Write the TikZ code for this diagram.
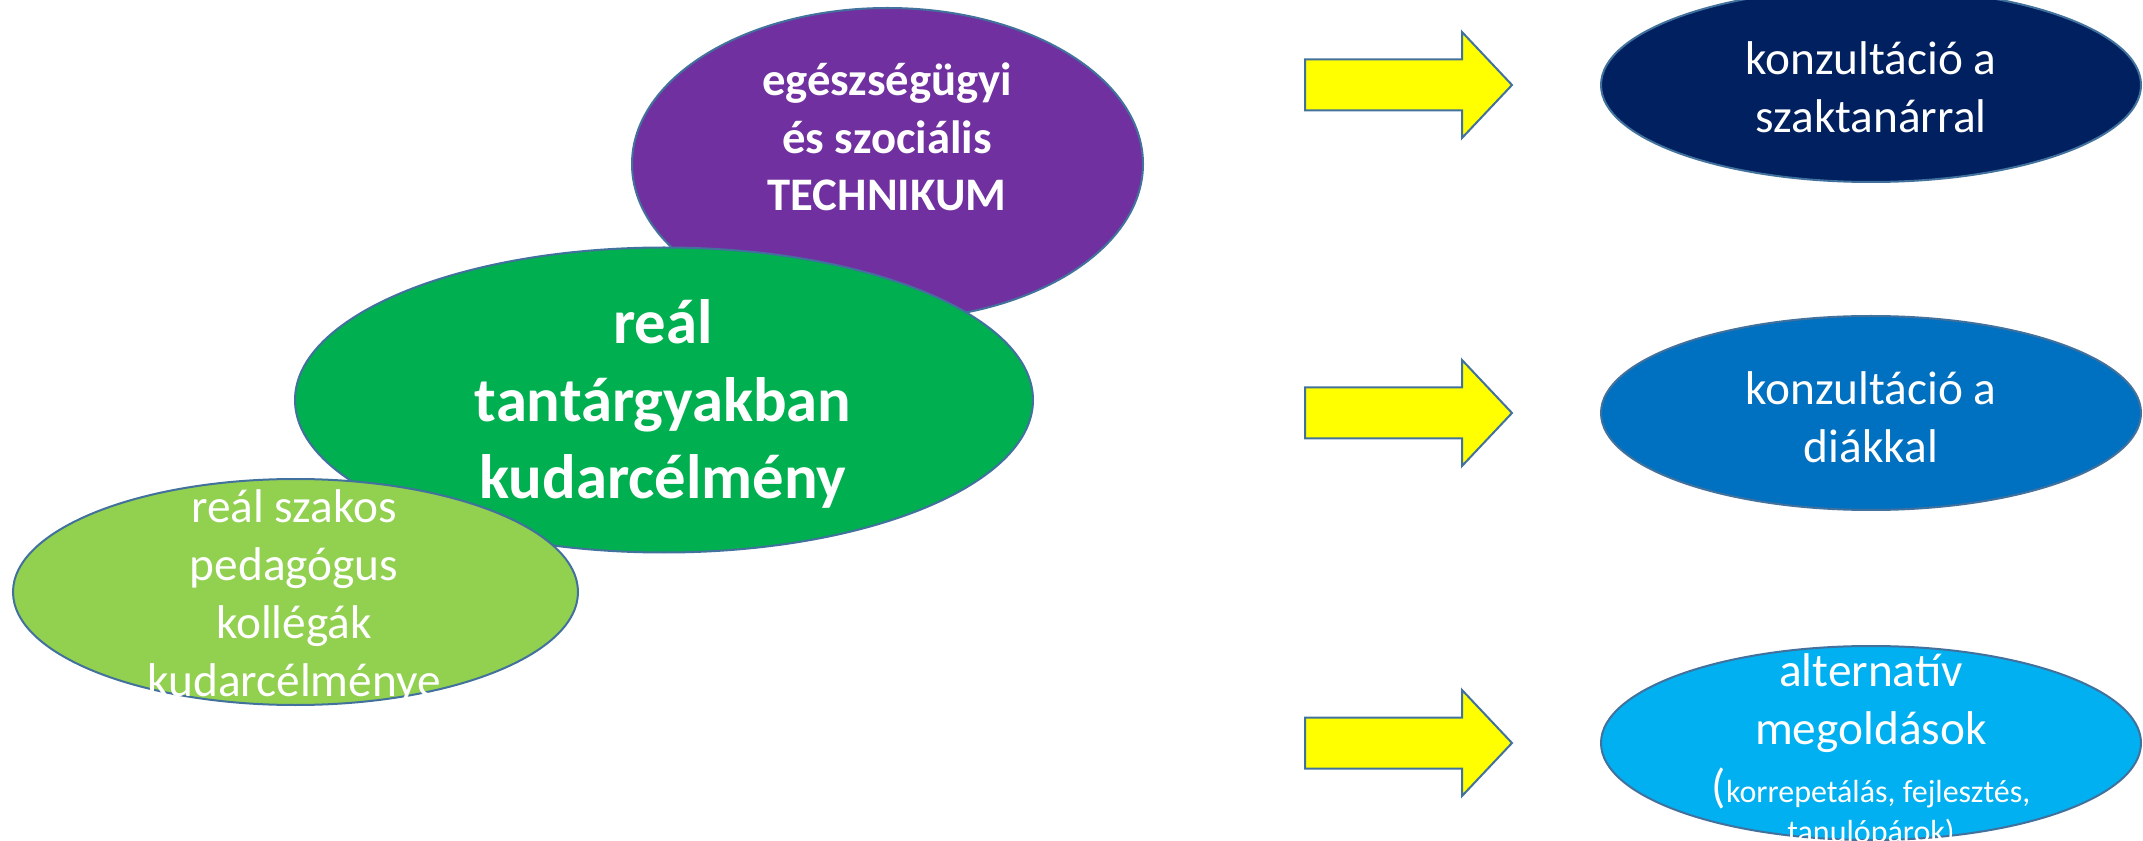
\documentclass[tikz,border=0pt]{standalone}
\usepackage{fontspec}
\setmainfont{Carlito}
\usetikzlibrary{shapes.geometric}
\definecolor{cpurple}{HTML}{7030A0}
\definecolor{cgreen}{HTML}{00B050}
\definecolor{clgreen}{HTML}{92D050}
\definecolor{cnavy}{HTML}{002060}
\definecolor{cblue}{HTML}{0070C0}
\definecolor{clblue}{HTML}{00B0F0}
\definecolor{cyel}{HTML}{FFFF00}
\definecolor{cedge}{HTML}{41719C}
\tikzset{
  oval/.style={ellipse, draw=cedge, line width=1.5pt, inner sep=0pt},
  wtxt/.style={text=white, align=center, inner sep=0pt},
  yarrow/.style={fill=cyel, draw=cedge, line width=1.5pt, line join=miter},
}
\begin{document}
\begin{tikzpicture}[x=0.75pt,y=-0.75pt]
\useasboundingbox (0,0) rectangle (2143,841);
\clip (0,0) rectangle (2143,841);
% left cluster
\node[oval, fill=cpurple, minimum width=383.25pt, minimum height=234pt] (tech) at (887.5,164) {};
\node[wtxt, font=\bfseries\fontsize{35}{43}\selectfont] (techt) at (887,137) {egészségügyi\\és szociális\\TECHNIKUM};
\node[oval, fill=cgreen, minimum width=553.5pt, minimum height=228.75pt] (real) at (664,400) {};
\node[wtxt, font=\bfseries\fontsize{47}{58}\selectfont] (realt) at (663,404) {reál\\tantárgyakban\\kudarcélmény};
\node[oval, fill=clgreen, minimum width=423.75pt, minimum height=169.5pt] (koll) at (295.5,592) {};
\node[wtxt, font=\fontsize{35.5}{43.5}\selectfont] (kollt) at (294,597) {reál szakos\\pedagógus\\kollégák\\kudarcélménye};
% arrows
\foreach \yy/\nm in {85/a1,413/a2,743/a3}{
  \draw[yarrow] (1305,\yy-25.5) -- (1462,\yy-25.5) -- (1462,\yy-53) -- (1512,\yy) -- (1462,\yy+53) -- (1462,\yy+25.5) -- (1305,\yy+25.5) -- cycle;
}
% right column
\node[oval, fill=cnavy, minimum width=405pt, minimum height=145.5pt] (szak) at (1871,85) {};
\node[wtxt, font=\fontsize{35.5}{43.5}\selectfont] (szakt) at (1871,87) {konzultáció a\\szaktanárral};
\node[oval, fill=cblue, minimum width=405pt, minimum height=145.5pt] (diak) at (1871,413) {};
\node[wtxt, font=\fontsize{35.5}{43.5}\selectfont] (diakt) at (1871,417) {konzultáció a\\diákkal};
\node[oval, fill=clblue, minimum width=405pt, minimum height=145.5pt] (alt) at (1871,743) {};
\node[wtxt, font=\fontsize{35.5}{43.5}\selectfont] (altt) at (1871,703) {alternatív\\megoldások};
\node[wtxt, font=\fontsize{24}{30}\selectfont] (altk) at (1871,808) {{\fontsize{35.5}{30}\selectfont(}korrepetálás, fejlesztés,\\tanulópárok)};
\end{tikzpicture}
\end{document}
